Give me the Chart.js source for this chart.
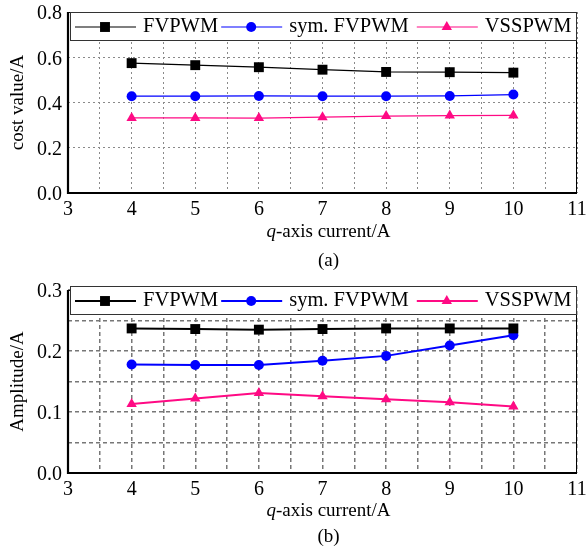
<!DOCTYPE html>
<html>
<head>
<meta charset="utf-8">
<script src="https://cdn.jsdelivr.net/npm/chart.js@4.4.1/dist/chart.umd.min.js"></script>
<style>
  body { margin: 0; background: #fff; width: 587px; height: 549px; position: relative; overflow: hidden; font-family: "Liberation Serif", serif; }
  canvas { position: absolute; left: 0; }
  .cap { position: absolute; left: 74px; width: 509px; font-size: 19px; color: #000; text-align: center; white-space: nowrap; }
</style>
</head>
<body>
<canvas id="chart-cost" width="587" height="275" style="top:0"></canvas>
<canvas id="chart-amp" width="587" height="274" style="top:275px"></canvas>
<div class="cap" style="top:220px"><i>q</i>-axis current/A</div>
<div class="cap" style="top:249px">(a)</div>
<div class="cap" style="top:499px"><i>q</i>-axis current/A</div>
<div class="cap" style="top:525px">(b)</div>
<script>
// ── Data ─────────────────────────────────────────────────────────────────────
const currents = [4, 5, 6, 7, 8, 9, 10];
const seriesNames = ['FVPWM', 'sym. FVPWM', 'VSSPWM'];

const costFV  = [0.574, 0.565, 0.556, 0.545, 0.535, 0.534, 0.532];
const costSym = [0.428, 0.428, 0.429, 0.428, 0.428, 0.429, 0.435];
const costVS  = [0.332, 0.332, 0.331, 0.335, 0.340, 0.342, 0.343];

const ampFV  = [0.237, 0.236, 0.235, 0.236, 0.237, 0.237, 0.237];
const ampSym = [0.178, 0.177, 0.177, 0.184, 0.192, 0.209, 0.226];
const ampVS  = [0.113, 0.122, 0.131, 0.126, 0.121, 0.116, 0.109];

const FONT = '"Liberation Serif", serif';
const COLORS = ['#000000', '#0000ff', '#ff0a84'];
const STYLES = ['rect', 'circle', 'triangle'];
const RADII = [7, 5, 6];
const LEGEND_GAPS = [3, 8, 0];

Chart.defaults.font.family = FONT;
Chart.defaults.color = '#000';

// ── Plot frame (thin box, thick left/bottom axes) ────────────────────────────
const framePlugin = {
  id: 'frame',
  beforeDatasetsDraw(chart) {
    const { ctx, chartArea: a } = chart;
    ctx.save();
    ctx.strokeStyle = '#000';
    ctx.lineWidth = 1;
    ctx.strokeRect(a.left, a.top + 0.5, a.right - a.left - 0.5, a.bottom - a.top);
    ctx.lineWidth = 2.2;
    ctx.beginPath();
    ctx.moveTo(a.left, a.top);
    ctx.lineTo(a.left, a.bottom);
    ctx.lineTo(a.right, a.bottom);
    ctx.stroke();
    ctx.restore();
  }
};

// ── Boxed legend across the top of the plot ──────────────────────────────────
function marker(ctx, style, r, x, y) {
  ctx.beginPath();
  if (style === 'rect') {
    const s = r * Math.SQRT1_2;
    ctx.rect(x - s, y - s, 2 * s, 2 * s);
  } else if (style === 'circle') {
    ctx.arc(x, y, r, 0, Math.PI * 2);
  } else {
    ctx.moveTo(x, y - r);
    ctx.lineTo(x + r * 0.866, y + r / 2);
    ctx.lineTo(x - r * 0.866, y + r / 2);
    ctx.closePath();
  }
  ctx.fill();
}

const boxLegend = {
  id: 'boxLegend',
  afterDatasetsDraw(chart, args, opts) {
    const { ctx, chartArea: a } = chart;
    const top = a.top + opts.offset;
    const h = opts.height;
    ctx.save();
    ctx.setLineDash([]);
    ctx.fillStyle = '#fff';
    ctx.fillRect(a.left + 2, top, a.right - a.left - 2, h);
    ctx.strokeStyle = '#333';
    ctx.lineWidth = 1;
    ctx.strokeRect(a.left + 2.5, top + 0.5, a.right - a.left - 3, h);
    ctx.font = '20.5px ' + FONT;
    ctx.textBaseline = 'middle';
    const y = top + h / 2 + 1;
    let x = a.left + 7;
    chart.data.datasets.forEach((ds, i) => {
      ctx.strokeStyle = ds.borderColor;
      ctx.lineWidth = ds.borderWidth;
      ctx.beginPath();
      ctx.moveTo(x, y);
      ctx.lineTo(x + 61, y);
      ctx.stroke();
      ctx.fillStyle = ds.borderColor;
      marker(ctx, ds.pointStyle, ds.pointRadius, x + 30, y);
      x += 68;
      ctx.fillStyle = '#000';
      ctx.fillText(ds.label, x, y);
      x += ctx.measureText(ds.label).width + LEGEND_GAPS[i];
    });
    ctx.restore();
  }
};

// ── Chart builder ────────────────────────────────────────────────────────────
function makeChart(id, series, cfg) {
  const datasets = series.map((vals, i) => ({
    label: seriesNames[i],
    data: currents.map((c, j) => ({ x: c, y: vals[j] })),
    borderColor: COLORS[i],
    backgroundColor: COLORS[i],
    pointBackgroundColor: COLORS[i],
    pointBorderWidth: 0,
    borderWidth: cfg.lineWidth,
    pointStyle: STYLES[i],
    pointRadius: RADII[i],
    tension: 0,
  }));

  const grid = { color: cfg.gridColor, lineWidth: cfg.gridWidth, drawTicks: false };
  const border = { display: false, dash: cfg.dash };

  return new Chart(document.getElementById(id), {
    type: 'line',
    data: { datasets },
    options: {
      responsive: false,
      animation: false,
      layout: { padding: { top: cfg.padTop, right: 10, left: 0, bottom: 0 } },
      plugins: {
        legend: { display: false },
        tooltip: { enabled: false },
        boxLegend: { offset: cfg.legendOffset, height: 28 },
      },
      scales: {
        x: {
          type: 'linear',
          min: 3, max: 11,
          grid, border,
          ticks: {
            stepSize: 0.5,
            autoSkip: false,
            maxRotation: 0,
            padding: 5,
            font: { family: FONT, size: 20 },
            callback: v => Number.isInteger(v) ? String(v) : '',
          },
          // fixed axis band so the plot box lands where the figure has it
          afterFit: s => { s.height = cfg.xHeight; s.paddingLeft = 0; s.paddingRight = 0; },
        },
        y: {
          min: 0, max: cfg.yMax,
          grid, border,
          title: {
            display: true,
            text: cfg.yTitle,
            font: { family: FONT, size: 19 },
            padding: { top: 7, bottom: 0 },
          },
          ticks: {
            stepSize: cfg.yStep,
            padding: 6,
            labelOffset: 2,
            font: { family: FONT, size: 20 },
            callback: cfg.yLabel,
          },
          afterFit: s => { s.width = 68; s.paddingTop = 0; s.paddingBottom = 0; },
        },
      },
    },
    plugins: [framePlugin, boxLegend],
  });
}

// ── (a) cost value ───────────────────────────────────────────────────────────
makeChart('chart-cost', [costFV, costSym, costVS], {
  yMax: 0.8, yStep: 0.1, yTitle: 'cost value/A',
  yLabel: v => Math.round(v * 10) % 2 === 0 ? v.toFixed(1) : '',
  padTop: 12, xHeight: 82,
  lineWidth: 1.2, gridColor: '#8a8a8a', gridWidth: 1, dash: [2, 3],
  legendOffset: 0,
});

// ── (b) amplitude ────────────────────────────────────────────────────────────
makeChart('chart-amp', [ampFV, ampSym, ampVS], {
  yMax: 0.3, yStep: 0.05, yTitle: 'Amplitude/A',
  yLabel: v => Math.round(v * 100) % 10 === 0 ? v.toFixed(1) : '',
  padTop: 15, xHeight: 76,
  lineWidth: 2, gridColor: '#777', gridWidth: 1.5, dash: [4, 3],
  legendOffset: -4,
});
</script>
</body>
</html>
